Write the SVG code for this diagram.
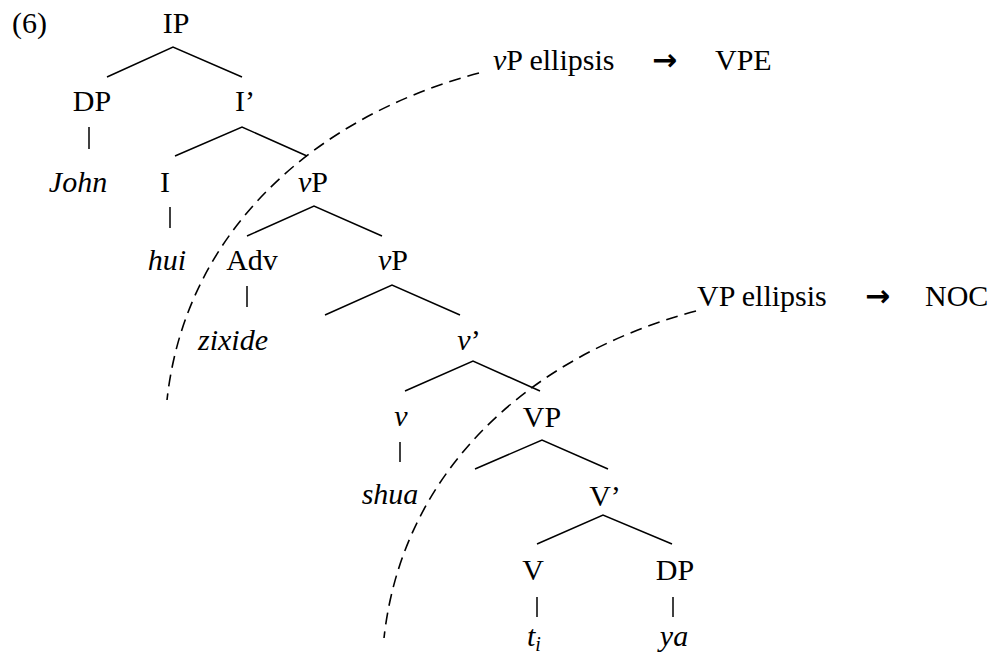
<svg xmlns="http://www.w3.org/2000/svg" width="994" height="656" viewBox="0 0 994 656">
<style>
text{font-family:"Liberation Serif","Times New Roman",serif;font-size:30px;fill:#000}
.n{text-anchor:middle}
.i{font-style:italic}
.br{fill:none;stroke:#000;stroke-width:1.5}
.d{fill:none;stroke:#000;stroke-width:1.6;stroke-dasharray:12 7}
.ar{font-family:"DejaVu Sans",sans-serif;font-size:30px;font-weight:bold}
</style>
<rect width="994" height="656" fill="#fff"/>
<text x="12" y="33">(6)</text>
<g id="connectors">
<polyline class="br" points="107,77 173,47 242,77"/>
<polyline class="br" points="175,156 242,127 307,156"/>
<polyline class="br" points="247,236 314,206 382,236"/>
<polyline class="br" points="325,315 392,285 460,315"/>
<polyline class="br" points="405,391 473,361 540,391"/>
<polyline class="br" points="475,469 542,440 608,469"/>
<polyline class="br" points="537,544 603,515 672,544"/>
<line class="br" x1="89" y1="127" x2="89" y2="149"/>
<line class="br" x1="170" y1="207" x2="170" y2="228"/>
<line class="br" x1="247" y1="286" x2="247" y2="307"/>
<line class="br" x1="400" y1="442" x2="400" y2="462"/>
<line class="br" x1="537" y1="597" x2="537" y2="617"/>
<line class="br" x1="673" y1="597" x2="673" y2="617"/>
<path id="vpe-curve" class="d" d="M479,73 C310,118 185,235 167,400"/>
<path id="noc-curve" class="d" d="M696,311 C527,356 402,473 384,638"/>
</g>
<g id="IP"><text class="n" x="176" y="33">IP</text></g>
<g id="DP1"><text class="n" x="92" y="111">DP</text></g>
<g id="Ibar"><text class="n" x="245" y="111">I’</text></g>
<g id="John"><text class="n i" x="78" y="192">John</text></g>
<g id="I"><text class="n" x="165" y="192">I</text></g>
<g id="vP1"><text class="n" x="313" y="192"><tspan class="i">v</tspan>P</text></g>
<g id="hui"><text class="n i" x="167" y="270">hui</text></g>
<g id="Adv"><text class="n" x="252" y="270">Adv</text></g>
<g id="vP2"><text class="n" x="393" y="270"><tspan class="i">v</tspan>P</text></g>
<g id="zixide"><text class="n i" x="233" y="350">zixide</text></g>
<g id="vbar"><text class="n" x="469" y="350"><tspan class="i">v</tspan>’</text></g>
<g id="v"><text class="n i" x="401" y="426">v</text></g>
<g id="VP"><text class="n" x="542" y="427">VP</text></g>
<g id="shua"><text class="n i" x="390" y="504">shua</text></g>
<g id="Vbar"><text class="n" x="605" y="506">V’</text></g>
<g id="V"><text class="n" x="533" y="580">V</text></g>
<g id="DP2"><text class="n" x="675" y="580">DP</text></g>
<g id="ti"><text class="i" x="527" y="646">t<tspan font-size="20" dy="5">i</tspan></text></g>
<g id="ya"><text class="n i" x="674" y="646">ya</text></g>
<g id="vPE-label"><text x="493" y="70"><tspan class="i">v</tspan>P ellipsis</text><text class="ar" x="652" y="70">→</text><text x="715" y="70">VPE</text></g>
<g id="NOC-label"><text x="697" y="306">VP ellipsis</text><text class="ar" x="865" y="306">→</text><text x="925" y="306">NOC</text></g>
</svg>
